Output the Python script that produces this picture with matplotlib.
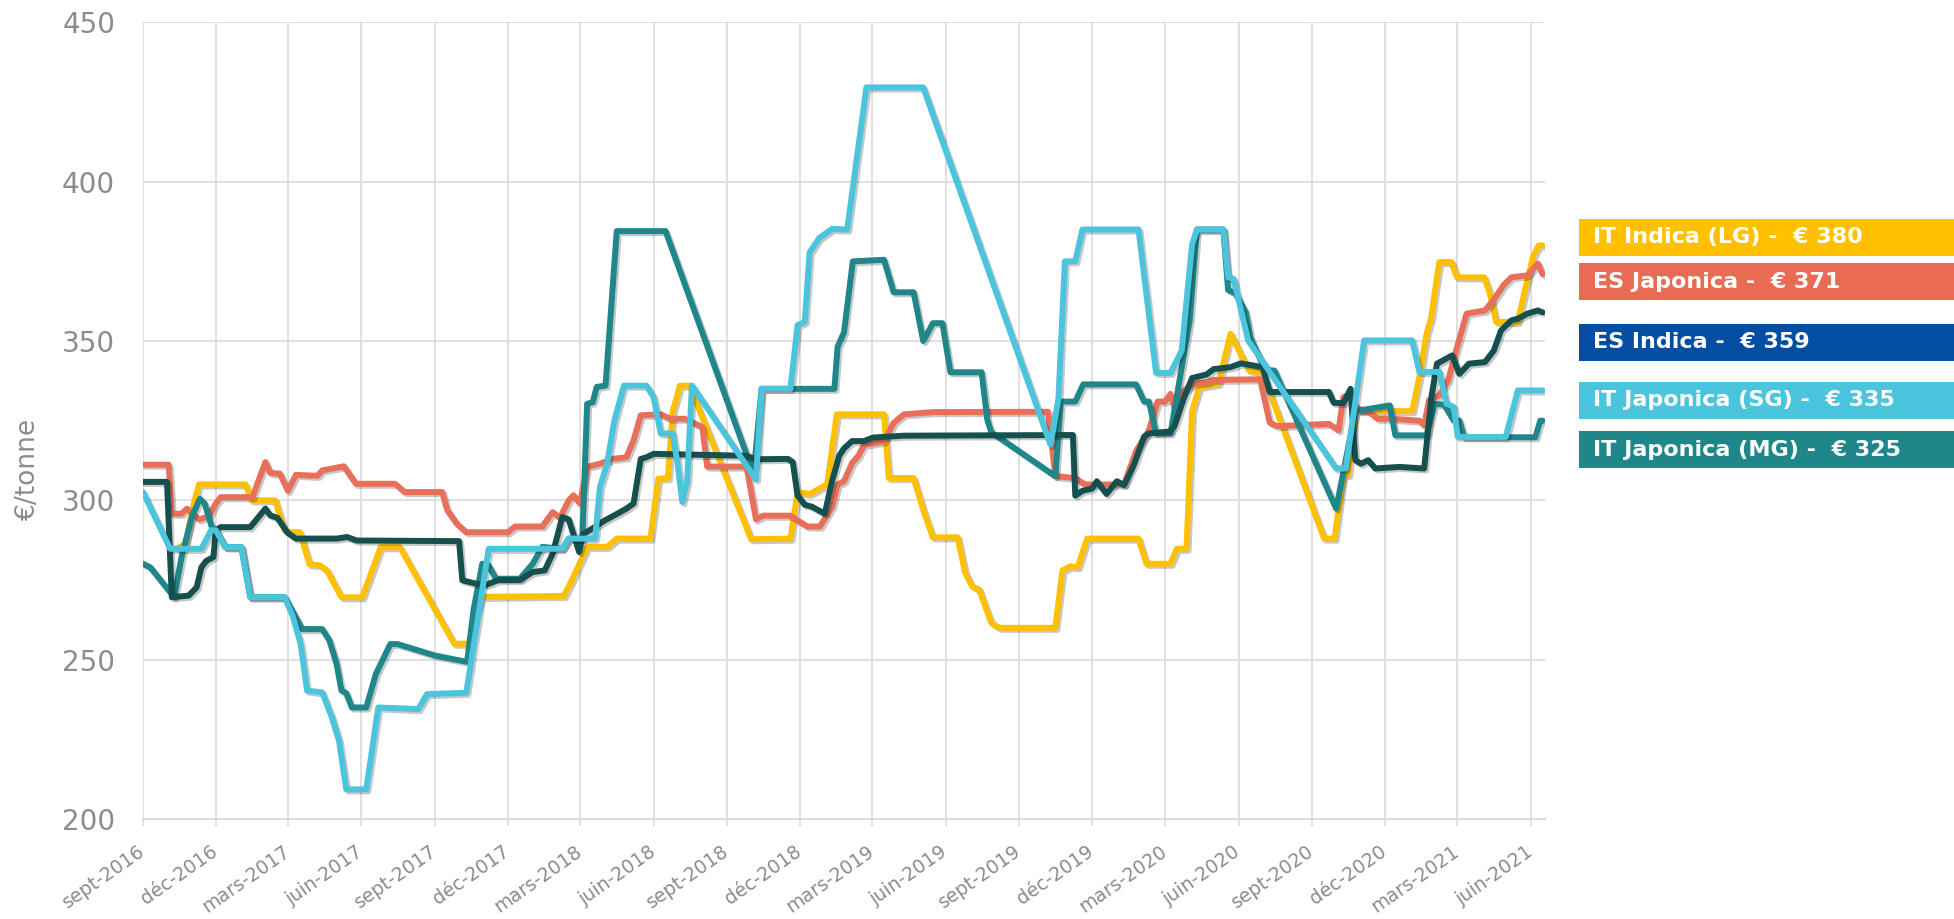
import matplotlib
matplotlib.use('Agg')
import matplotlib.pyplot as plt
import matplotlib.patheffects as pe
from matplotlib.patches import Rectangle
import pandas as pd

# IT Indica (LG)
lg_dates = ['2016-10-14', '2016-10-24', '2016-11-04', '2016-11-10', '2017-01-07', '2017-01-15',
            '2017-02-13', '2017-02-19', '2017-02-25', '2017-03-04', '2017-03-16', '2017-03-28',
            '2017-04-10', '2017-04-19', '2017-04-28', '2017-05-07', '2017-06-02', '2017-06-25',
            '2017-07-19', '2017-09-25', '2017-10-13', '2017-10-28', '2018-02-09', '2018-02-21',
            '2018-03-10', '2018-04-04', '2018-04-16', '2018-05-28', '2018-06-07', '2018-06-19',
            '2018-06-25', '2018-07-04', '2018-07-16', '2018-10-01', '2018-11-19', '2018-11-28',
            '2018-12-13', '2019-01-04', '2019-01-16', '2019-03-16', '2019-03-22', '2019-04-22',
            '2019-05-04', '2019-05-16', '2019-06-16', '2019-06-25', '2019-07-04', '2019-07-13',
            '2019-07-28', '2019-08-07', '2019-10-16', '2019-10-25', '2019-11-04', '2019-11-13',
            '2019-11-25', '2020-01-28', '2020-02-07', '2020-03-08', '2020-03-16', '2020-03-28',
            '2020-04-04', '2020-04-13', '2020-05-07', '2020-05-22', '2020-06-14', '2020-07-01',
            '2020-09-16', '2020-09-29', '2020-10-10', '2020-10-16', '2020-10-25', '2021-01-04',
            '2021-01-13', '2021-01-22', '2021-01-28', '2021-02-01', '2021-02-07', '2021-02-22',
            '2021-03-01', '2021-04-04', '2021-04-11', '2021-04-19', '2021-05-16', '2021-05-25',
            '2021-06-04', '2021-06-11', '2021-06-16']
lg_vals = [285, 286.4, 299.5, 305, 305, 300,
           300, 295.3, 290.6, 290, 290, 280,
           279.6, 278, 273.8, 269.6, 269.6, 285.3,
           285.3, 255, 255, 269.7, 270, 276,
           285.4, 285.4, 288, 288, 306.8, 307,
           328, 336, 336, 287.8, 288, 302.6,
           302, 305, 327, 327, 307, 307,
           297, 288.4, 288.4, 277.6, 273, 272,
           261.6, 260, 260, 278, 279.3, 279,
           288, 288, 280.1, 280.1, 284.8, 284.8,
           328, 335.6, 336.6, 352.3, 340.8, 340,
           288, 288, 308, 308, 328, 328,
           338.7, 352.3, 357.5, 365, 374.8, 374.8,
           370, 370, 365, 356, 356, 366,
           376.4, 380, 380]

# ES Japonica
esj_dates = ['2016-09-01', '2016-10-03', '2016-10-07', '2016-10-19', '2016-10-26', '2016-11-10',
             '2016-11-22', '2016-12-01', '2016-12-07', '2017-01-16', '2017-01-23', '2017-02-01',
             '2017-02-07', '2017-02-19', '2017-03-01', '2017-03-11', '2017-04-07', '2017-04-13',
             '2017-05-10', '2017-05-25', '2017-07-13', '2017-07-25', '2017-09-10', '2017-09-16',
             '2017-09-28', '2017-10-10', '2017-12-01', '2017-12-10', '2018-01-13', '2018-01-26',
             '2018-02-04', '2018-02-15', '2018-02-21', '2018-03-01', '2018-03-10', '2018-03-26',
             '2018-04-10', '2018-04-28', '2018-05-07', '2018-05-16', '2018-06-10', '2018-06-22',
             '2018-07-10', '2018-08-01', '2018-08-07', '2018-09-22', '2018-09-26', '2018-10-07',
             '2018-10-16', '2018-11-19', '2018-12-10', '2018-12-26', '2019-01-10', '2019-01-17',
             '2019-01-25', '2019-02-04', '2019-02-12', '2019-02-19', '2019-03-16', '2019-03-28',
             '2019-04-10', '2019-05-16', '2019-10-07', '2019-10-16', '2019-11-10', '2019-11-22',
             '2020-01-10', '2020-01-25', '2020-02-10', '2020-02-21', '2020-03-01', '2020-03-08',
             '2020-03-13', '2020-03-25', '2020-04-07', '2020-04-22', '2020-05-01', '2020-06-28',
             '2020-07-10', '2020-07-19', '2020-09-22', '2020-10-04', '2020-10-10', '2020-10-16',
             '2020-10-28', '2020-11-10', '2020-11-22', '2020-12-10', '2021-01-13', '2021-01-19',
             '2021-01-25', '2021-02-07', '2021-02-18', '2021-03-01', '2021-03-13', '2021-04-05',
             '2021-04-17', '2021-04-28', '2021-05-08', '2021-05-28', '2021-06-10', '2021-06-16']
esj_vals = [311.2, 311.2, 295.8, 295.8, 297.4, 294,
            295, 299, 301, 301, 306, 312,
            308.6, 308.4, 303, 308, 307.7, 309.4,
            310.7, 305.2, 305.2, 302.6, 302.6, 297,
            292.7, 290, 290, 291.8, 291.8, 296.3,
            294.5, 300, 301.6, 299, 310.5, 311.5,
            313, 313.5, 318.8, 326.7, 327, 325.6,
            325.6, 323, 310.6, 310.6, 309.5, 294,
            295.2, 295.2, 291.8, 291.8, 298, 305,
            306, 311.7, 314, 317.4, 318.5, 324.3,
            327, 327.7, 327.8, 307.6, 307, 305,
            305, 315.5, 322, 331, 331, 333.4,
            328.9, 334.5, 336.7, 337, 337.8, 338,
            324.4, 323.3, 324, 322, 332.4, 333,
            328.8, 328, 325.6, 325.6, 325, 323.5,
            331.4, 333, 337.7, 348, 358.6, 359.6,
            363.3, 367.5, 370, 370.6, 374.3, 371]

# ES Indica
esi_dates = ['2016-09-01', '2016-10-01', '2016-10-07', '2016-10-28', '2016-11-07', '2016-11-13',
             '2016-11-19', '2016-11-28', '2016-12-01', '2016-12-07', '2017-01-13', '2017-02-01',
             '2017-02-07', '2017-02-16', '2017-02-28', '2017-03-11', '2017-05-01', '2017-05-14',
             '2017-05-26', '2017-10-01', '2017-10-05', '2017-10-23', '2017-11-04', '2017-11-19',
             '2017-12-16', '2018-01-01', '2018-01-16', '2018-01-26', '2018-02-07', '2018-02-15',
             '2018-02-28', '2018-03-05', '2018-03-13', '2018-04-01', '2018-04-13', '2018-04-28',
             '2018-05-07', '2018-05-16', '2018-05-23', '2018-06-01', '2018-09-25', '2018-10-07',
             '2018-11-16', '2018-11-22', '2018-11-28', '2018-12-07', '2018-12-16', '2019-01-01',
             '2019-01-10', '2019-01-19', '2019-01-25', '2019-02-04', '2019-02-19', '2019-03-02',
             '2019-04-10', '2019-11-07', '2019-11-10', '2019-11-19', '2019-12-01', '2019-12-07',
             '2019-12-19', '2020-01-01', '2020-01-10', '2020-01-22', '2020-02-04', '2020-02-10',
             '2020-03-07', '2020-03-13', '2020-03-25', '2020-04-04', '2020-04-22', '2020-05-01',
             '2020-05-22', '2020-06-04', '2020-07-01', '2020-07-10', '2020-09-22', '2020-09-28',
             '2020-10-10', '2020-10-19', '2020-10-25', '2020-11-01', '2020-11-10', '2020-11-19',
             '2020-12-19', '2021-01-19', '2021-01-28', '2021-02-04', '2021-02-23', '2021-03-04',
             '2021-03-16', '2021-04-05', '2021-04-16', '2021-04-25', '2021-05-08', '2021-05-16',
             '2021-05-28', '2021-06-10', '2021-06-16']
esi_vals = [305.8, 305.8, 269.6, 270.1, 272.7, 279,
            281, 282.2, 290.6, 291.6, 291.6, 297.4,
            295.3, 294.5, 290, 288, 288, 288.5,
            287.4, 287.2, 274.9, 273.8, 273.5, 275,
            275, 277.5, 278, 283.3, 294.8, 294,
            283.8, 289.5, 290.6, 293.7, 295.3, 297.4,
            299, 313, 313.5, 314.6, 314, 312.9,
            313, 312, 301.5, 298.6, 298, 295.8,
            306, 314, 316.3, 318.6, 318.6, 319.7,
            320.3, 320.5, 301.5, 303, 303.7, 306,
            302, 306, 304.8, 311, 320, 321,
            321.6, 323.3, 332.3, 338.4, 339.5, 341.2,
            341.8, 343, 341.8, 334, 334, 330.6,
            330.5, 335, 312.6, 311.5, 312.6, 310,
            310.5, 310, 332.4, 342.9, 345.5, 339.7,
            342.9, 343.4, 347, 353.3, 356.5, 357,
            358.6, 359.6, 359]

# IT Japonica (SG)
sg_dates = ['2016-09-01', '2016-10-05', '2016-11-13', '2016-11-25', '2016-12-01', '2016-12-13',
            '2017-01-02', '2017-01-13', '2017-02-25', '2017-03-07', '2017-03-17', '2017-03-25',
            '2017-04-13', '2017-04-25', '2017-05-04', '2017-05-13', '2017-06-07', '2017-06-22',
            '2017-08-11', '2017-08-22', '2017-10-10', '2017-11-07', '2018-02-07', '2018-02-15',
            '2018-03-20', '2018-03-26', '2018-04-04', '2018-04-13', '2018-04-25', '2018-05-23',
            '2018-06-01', '2018-06-10', '2018-06-25', '2018-07-01', '2018-07-07', '2018-07-13',
            '2018-07-19', '2018-10-07', '2018-10-14', '2018-11-19', '2018-11-28', '2018-12-07',
            '2018-12-13', '2018-12-25', '2019-01-10', '2019-01-29', '2019-02-22', '2019-05-04',
            '2019-10-10', '2019-10-20', '2019-10-28', '2019-11-10', '2019-11-19', '2020-01-28',
            '2020-02-19', '2020-03-08', '2020-03-22', '2020-04-04', '2020-04-10', '2020-05-13',
            '2020-05-19', '2020-05-26', '2020-06-13', '2020-10-01', '2020-10-13', '2020-11-05',
            '2021-01-04', '2021-01-13', '2021-02-07', '2021-02-16', '2021-02-25', '2021-03-02',
            '2021-05-01', '2021-05-16', '2021-06-16']
sg_vals = [302.6, 284.8, 284.8, 290.6, 290.6, 285.3,
           285.3, 269.6, 269.6, 263.8, 254.9, 240.3,
           239.7, 231.9, 224.5, 209.3, 209.3, 235,
           234.5, 239.2, 239.6, 284.8, 284.8, 288,
           288, 304.2, 311.5, 325, 336, 336,
           332.4, 321, 321, 311.5, 299.5, 306,
           336, 306.6, 335, 335, 355, 356,
           377.8, 382.3, 385.2, 385, 429.6, 429.6,
           317.5, 332, 375, 375, 385, 385,
           340, 340, 347, 380.4, 385, 385,
           370, 369.5, 350.2, 310, 310, 350.2,
           350.2, 340.3, 340.3, 330.3, 329.3, 319.9,
           319.9, 334.5, 334.5]

# IT Japonica (MG)
mg_dates = ['2016-09-01', '2016-09-10', '2016-10-10', '2016-10-19', '2016-11-01', '2016-11-11',
            '2016-11-17', '2016-11-26', '2016-12-01', '2016-12-13', '2017-01-02', '2017-01-13',
            '2017-02-25', '2017-03-19', '2017-04-13', '2017-04-22', '2017-05-01', '2017-05-07',
            '2017-05-13', '2017-05-20', '2017-06-07', '2017-06-19', '2017-07-07', '2017-07-16',
            '2017-09-01', '2017-10-11', '2017-10-19', '2017-10-30', '2017-11-07', '2017-11-16',
            '2017-12-16', '2018-01-01', '2018-01-13', '2018-02-07', '2018-02-15', '2018-03-04',
            '2018-03-10', '2018-03-17', '2018-03-22', '2018-04-02', '2018-04-16', '2018-06-16',
            '2018-10-04', '2018-10-14', '2019-01-13', '2019-01-17', '2019-01-25', '2019-02-05',
            '2019-03-16', '2019-03-28', '2019-04-22', '2019-05-04', '2019-05-10', '2019-05-16',
            '2019-05-28', '2019-06-07', '2019-07-16', '2019-07-23', '2019-07-28', '2019-10-16',
            '2019-10-23', '2019-11-10', '2019-11-20', '2020-01-25', '2020-02-04', '2020-02-10',
            '2020-02-19', '2020-03-08', '2020-04-01', '2020-04-10', '2020-05-13', '2020-05-19',
            '2020-05-28', '2020-06-10', '2020-06-16', '2020-07-04', '2020-07-16', '2020-10-01',
            '2020-10-25', '2020-12-07', '2020-12-14', '2021-01-22', '2021-02-01', '2021-02-13',
            '2021-02-25', '2021-03-04', '2021-03-10', '2021-06-07', '2021-06-13', '2021-06-16']
mg_vals = [280.1, 279, 269.6, 282, 294.8, 300.5,
           299, 291.6, 290.6, 285.3, 285.3, 269.6,
           269.6, 259.6, 259.6, 256, 248.6, 240.3,
           239.5, 235, 235, 245.5, 254.9, 254.9,
           251.3, 249.3, 265.5, 280.1, 279.5, 275.4,
           275.4, 280.1, 285.4, 284.8, 288, 288,
           330.3, 330.8, 335.6, 336, 384.5, 384.5,
           308.3, 335, 335, 348.2, 352.7, 375,
           375.5, 365.3, 365.3, 350, 352.7, 355.6,
           355.6, 340.2, 340.2, 325.4, 321.4, 307.6,
           331, 331, 336.4, 336.4, 331, 331,
           321, 321, 356.5, 385, 385, 366,
           365, 359, 351, 341, 340.7, 297.4,
           328, 329.8, 320.4, 320.4, 330.3, 330,
           325, 325, 319.8, 319.8, 325, 325]

# x axis ticks every 3 months
tick_dates = ['2016-09-01', '2016-12-01', '2017-03-01', '2017-06-01', '2017-09-01', '2017-12-01',
              '2018-03-01', '2018-06-01', '2018-09-01', '2018-12-01', '2019-03-01', '2019-06-01',
              '2019-09-01', '2019-12-01', '2020-03-01', '2020-06-01', '2020-09-01', '2020-12-01',
              '2021-03-01', '2021-06-01']
tick_labels = ['sept-2016', 'déc-2016', 'mars-2017', 'juin-2017', 'sept-2017', 'déc-2017',
               'mars-2018', 'juin-2018', 'sept-2018', 'déc-2018', 'mars-2019', 'juin-2019',
               'sept-2019', 'déc-2019', 'mars-2020', 'juin-2020', 'sept-2020', 'déc-2020',
               'mars-2021', 'juin-2021']

# side labels (name, last price)
label_names = ['IT Indica (LG)', 'ES Japonica', 'ES Indica', 'IT Japonica (SG)', 'IT Japonica (MG)']
label_prices = [380, 371, 359, 335, 325]
label_colors = ['#FFC000', '#E96B53', '#034EA2', '#4BC4DD', '#1F8689']
label_tops = [219, 263, 324, 382, 431]   # pixel rows of the boxes

grey = '#8C8C8C'
grid = '#DADADA'

fig = plt.figure(figsize=(19.54, 9.19), dpi=100)
ax = fig.add_axes([143 / 1954, 1 - 819 / 919, (1545 - 143) / 1954, (819 - 22.4) / 919])

shadow = [pe.SimpleLineShadow(offset=(1.5, -1.5), shadow_color='k', alpha=0.22), pe.Normal()]

# draw order: yellow, red, teal, dark, light blue
series = [
    (lg_dates, lg_vals, '#FFC000'),
    (esj_dates, esj_vals, '#E8705A'),
    (mg_dates, mg_vals, '#1F8689'),
    (esi_dates, esi_vals, '#15504F'),
    (sg_dates, sg_vals, '#4BC4DD'),
]
for d, v, c in series:
    ax.plot(pd.to_datetime(d), v, color=c, lw=4.3, solid_joinstyle='round',
            solid_capstyle='round', path_effects=shadow, zorder=3)

ax.set_ylim(200, 450)
ax.set_xlim(pd.Timestamp('2016-09-01'), pd.Timestamp('2021-06-19'))
ax.set_yticks([200, 250, 300, 350, 400, 450])
ax.set_xticks(pd.to_datetime(tick_dates))
ax.set_xticklabels(tick_labels, rotation=35, ha='right', va='center', rotation_mode='anchor',
                   fontsize=13.6, color=grey, family='DejaVu Sans')
for t in ax.get_yticklabels():
    t.set_family('DejaVu Sans')
ax.tick_params(axis='y', length=0, pad=20, labelsize=20, labelcolor=grey)
ax.tick_params(axis='x', length=5, width=1.2, color=grid, pad=17)

ax.grid(True, color=grid, lw=1.2, zorder=0)
ax.set_axisbelow(True)
for s in ['top', 'right', 'left']:
    ax.spines[s].set_visible(False)
ax.spines['bottom'].set_color(grid)
ax.spines['bottom'].set_linewidth(1.5)

fig.text(27.5 / 1954, 1 - 469 / 919, '€/tonne', rotation=90, ha='center', va='center',
         fontsize=19, color=grey, family='DejaVu Sans')

# coloured labels on the right
for name, price, col, top in zip(label_names, label_prices, label_colors, label_tops):
    y0 = 1 - (top + 37) / 919
    fig.add_artist(Rectangle((1579 / 1954, y0), (1954 - 1579) / 1954, 37 / 919,
                             transform=fig.transFigure, facecolor=col, edgecolor='none'))
    fig.text(1593 / 1954, y0 + 18.5 / 919, f'{name} -  € {price}', ha='left', va='center',
             fontsize=16, fontweight='bold', color='white', family='DejaVu Sans')

fig.savefig('out.png', dpi=100, facecolor='white')
